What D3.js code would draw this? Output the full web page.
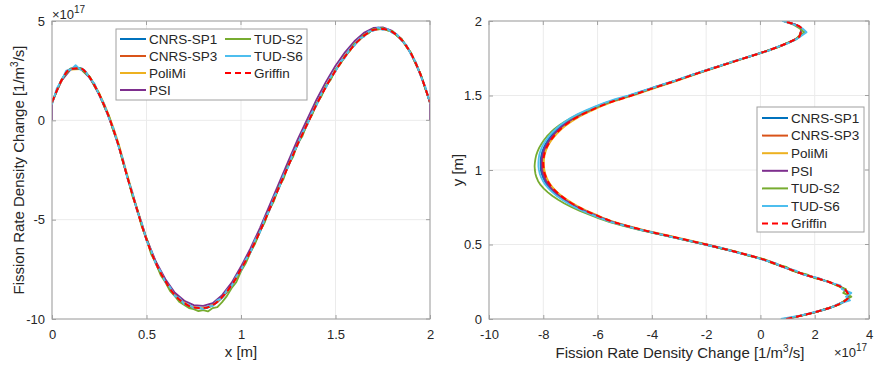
<!DOCTYPE html>
<html>
<head>
<meta charset="utf-8">
<script src="https://cdn.jsdelivr.net/npm/d3@7"></script>
<style>
body{margin:0;background:#fff;}
text{font-family:"Liberation Sans",Arial,Helvetica,sans-serif;fill:#262626;}
</style>
</head>
<body>
<svg width="878" height="366"></svg>
<script>
// series names / colours (MATLAB defaults)
var names = ['CNRS-SP1','CNRS-SP3','PoliMi','PSI','TUD-S2','TUD-S6','Griffin'];
var colors = ['#0072BD','#D95319','#EDB120','#7E2F8E','#77AC30','#4DBEEE','#FF0000'];

// tick labels
var xTicksL = [0,0.5,1,1.5,2];
var yTicksL = [-10,-5,0,5];
var xTicksR = [-10,-8,-6,-4,-2,0,2,4];
var yTicksR = [0,0.5,1,1.5,2];

// ---- left panel: value (x1e17) vs x [m], coarse grid 0..2 step 0.05, fine grid step 0.025
var sp1L = [0.88,2.02,2.6,2.63,2.17,1.32,0.22,-1.18,-2.88,-4.48,-5.98,-7.18,-8.1,-8.8,-9.22,-9.44,-9.47,-9.32,-8.92,-8.32,-7.52,-6.62,-5.6,-4.5,-3.4,-2.28,-1.2,-0.18,0.82,1.72,2.52,3.22,3.82,4.27,4.57,4.62,4.47,4.07,3.37,2.32,0.9];
var sp3L = [0.9,1.98,2.57,2.6,2.13,1.28,0.18,-1.22,-2.92,-4.52,-6.02,-7.22,-8.12,-8.82,-9.22,-9.43,-9.46,-9.31,-8.91,-8.31,-7.51,-6.61,-5.61,-4.51,-3.41,-2.31,-1.21,-0.21,0.79,1.69,2.49,3.19,3.79,4.24,4.54,4.59,4.44,4.04,3.34,2.29,0.89];
var polimiL = [0.88,1.97,2.55,2.58,2.17,1.35,0.28,-1.1,-2.8,-4.42,-5.92,-7.15,-8.05,-8.75,-9.17,-9.4,-9.43,-9.28,-8.88,-8.28,-7.48,-6.58,-5.58,-4.48,-3.38,-2.28,-1.18,-0.18,0.82,1.72,2.52,3.22,3.82,4.27,4.57,4.62,4.47,4.07,3.37,2.32,0.88];
var psiL = [0.9,2.0,2.58,2.6,2.14,1.28,0.17,-1.22,-2.9,-4.48,-5.95,-7.12,-8.0,-8.68,-9.08,-9.3,-9.34,-9.2,-8.8,-8.18,-7.36,-6.45,-5.42,-4.3,-3.18,-2.06,-0.96,0.05,1.05,1.95,2.75,3.42,3.98,4.4,4.65,4.68,4.5,4.08,3.36,2.3,0.9];
var psiEdgeL = [0,0]; // PSI values exactly at the walls x=0 and x=2
var tudS2L = [0.85,1.5,2.05,2.35,2.62,2.6,2.62,2.38,2.2,1.72,1.35,0.72,0.25,-0.55,-1.15,-2.1,-2.85,-3.8,-4.45,-5.35,-5.95,-6.75,-7.2,-7.8,-8.15,-8.6,-8.85,-9.15,-9.3,-9.45,-9.5,-9.6,-9.55,-9.62,-9.45,-9.4,-9.15,-8.85,-8.45,-8.15,-7.6,-7.2,-6.65,-6.2,-5.6,-5.15,-4.5,-4.05,-3.35,-2.95,-2.25,-1.85,-1.15,-0.8,-0.15,0.25,0.85,1.2,1.75,2.05,2.55,2.82,3.25,3.48,3.85,4.02,4.3,4.38,4.6,4.58,4.65,4.52,4.5,4.25,4.1,3.7,3.4,2.82,2.35,1.6,0.9];
var tudS6L = [0.8,1.6,2.0,2.5,2.55,2.78,2.55,2.5,2.1,1.85,1.25,0.85,0.15,-0.4,-1.25,-1.95,-2.95,-3.6,-4.55,-5.15,-6.05,-6.55,-7.25,-7.6,-8.15,-8.4,-8.85,-8.95,-9.25,-9.28,-9.45,-9.4,-9.5,-9.35,-9.35,-9.05,-8.95,-8.55,-8.35,-7.85,-7.55,-7.0,-6.65,-6.0,-5.65,-4.95,-4.55,-3.85,-3.45,-2.75,-2.35,-1.65,-1.25,-0.6,-0.25,0.4,0.75,1.35,1.65,2.2,2.45,2.95,3.15,3.6,3.75,4.12,4.2,4.48,4.5,4.68,4.55,4.6,4.4,4.33,4.0,3.8,3.3,2.92,2.25,1.7,0.85];
var griffinL = [0.9,2.0,2.6,2.62,2.15,1.3,0.2,-1.2,-2.9,-4.5,-6.0,-7.2,-8.1,-8.8,-9.2,-9.42,-9.45,-9.3,-8.9,-8.3,-7.5,-6.6,-5.6,-4.5,-3.4,-2.3,-1.2,-0.2,0.8,1.7,2.5,3.2,3.8,4.25,4.55,4.6,4.45,4.05,3.35,2.3,0.9];

// ---- right panel: value (x1e17) vs y [m]
var sp1R = [0.95,2.1,2.9,3.25,3.1,2.5,1.6,0.85,0.08,-0.93,-2.04,-3.25,-4.46,-5.48,-6.2,-6.8,-7.26,-7.62,-7.86,-8.01,-8.09,-8.1,-8.07,-7.98,-7.83,-7.62,-7.32,-6.92,-6.37,-5.7,-4.82,-4.0,-3.13,-2.32,-1.46,-0.6,0.25,0.97,1.47,1.52,0.85];
var sp3R = [0.93,2.08,2.88,3.23,3.08,2.48,1.58,0.83,0.08,-0.92,-2.02,-3.22,-4.42,-5.42,-6.12,-6.72,-7.17,-7.52,-7.77,-7.92,-8.0,-8.02,-7.99,-7.9,-7.74,-7.52,-7.22,-6.82,-6.27,-5.62,-4.77,-3.97,-3.12,-2.32,-1.47,-0.62,0.23,0.95,1.43,1.5,0.83];
var polimiR = [0.95,2.1,2.9,3.24,3.1,2.5,1.62,0.88,0.14,-0.86,-1.96,-3.15,-4.35,-5.36,-6.06,-6.66,-7.12,-7.48,-7.73,-7.88,-7.96,-7.98,-7.95,-7.86,-7.7,-7.47,-7.16,-6.75,-6.2,-5.55,-4.7,-3.9,-3.06,-2.26,-1.42,-0.57,0.27,0.98,1.45,1.5,0.85];
var psiR = [0.95,2.1,2.9,3.25,3.1,2.5,1.6,0.85,0.1,-0.9,-2.0,-3.21,-4.42,-5.43,-6.14,-6.75,-7.21,-7.57,-7.82,-7.97,-8.05,-8.06,-8.03,-7.94,-7.78,-7.56,-7.26,-6.86,-6.3,-5.64,-4.78,-3.97,-3.11,-2.3,-1.45,-0.6,0.25,0.97,1.45,1.5,0.85];
var tudS2R = [0.85,1.55,2.1,2.55,2.95,3.1,3.35,3.05,3.15,2.8,2.55,2.0,1.7,1.15,0.95,0.42,0.15,-0.45,-0.88,-1.5,-2.02,-2.65,-3.25,-3.88,-4.5,-5.05,-5.55,-5.95,-6.3,-6.65,-6.95,-7.22,-7.45,-7.66,-7.83,-7.98,-8.1,-8.19,-8.25,-8.29,-8.31,-8.32,-8.31,-8.29,-8.26,-8.21,-8.15,-8.07,-7.98,-7.87,-7.74,-7.59,-7.41,-7.2,-6.96,-6.69,-6.36,-6.02,-5.66,-5.25,-4.8,-4.38,-3.97,-3.55,-3.12,-2.72,-2.3,-1.9,-1.45,-1.05,-0.6,-0.18,0.25,0.65,0.95,1.3,1.42,1.62,1.45,1.22,0.85];
var tudS6R = [0.75,1.5,2.05,2.6,2.85,3.3,3.15,3.35,3.0,2.95,2.45,2.15,1.55,1.3,0.8,0.55,0.05,-0.35,-0.95,-1.4,-2.05,-2.6,-3.25,-3.82,-4.47,-4.98,-5.5,-5.88,-6.22,-6.55,-6.84,-7.08,-7.3,-7.5,-7.66,-7.8,-7.92,-8.01,-8.08,-8.13,-8.16,-8.18,-8.18,-8.17,-8.15,-8.11,-8.06,-7.99,-7.9,-7.8,-7.68,-7.54,-7.38,-7.19,-6.98,-6.73,-6.43,-6.1,-5.75,-5.35,-4.88,-4.45,-4.02,-3.6,-3.15,-2.76,-2.33,-1.92,-1.47,-1.08,-0.62,-0.2,0.28,0.6,1.0,1.3,1.5,1.7,1.55,1.25,0.8];
var griffinR = [0.95,2.1,2.9,3.25,3.1,2.5,1.6,0.85,0.1,-0.9,-2.0,-3.2,-4.4,-5.4,-6.1,-6.7,-7.15,-7.5,-7.75,-7.9,-7.98,-8.0,-7.97,-7.88,-7.72,-7.5,-7.2,-6.8,-6.25,-5.6,-4.75,-3.95,-3.1,-2.3,-1.45,-0.6,0.25,0.97,1.45,1.5,0.85];

var coarse = d3.range(41).map(i => i*0.05);
var fine = d3.range(81).map(i => i*0.025);

var svg = d3.select('svg');

function pair(grid, vals){
    return vals.map((v,i) => ({p:grid[i], v:v}));
}

var leftSeries = [
    {name:'CNRS-SP1', pts:pair(coarse,sp1L), smooth:true},
    {name:'CNRS-SP3', pts:pair(coarse,sp3L), smooth:true},
    {name:'PoliMi', pts:pair(coarse,polimiL), smooth:true},
    {name:'PSI', pts:[{p:0,v:psiEdgeL[0]}].concat(pair(coarse,psiL),[{p:2,v:psiEdgeL[1]}]), smooth:false},
    {name:'TUD-S2', pts:pair(fine,tudS2L), smooth:false},
    {name:'TUD-S6', pts:pair(fine,tudS6L), smooth:false},
    {name:'Griffin', pts:pair(coarse,griffinL), smooth:true}
];
var rightSeries = [
    {name:'CNRS-SP1', pts:pair(coarse,sp1R), smooth:true},
    {name:'CNRS-SP3', pts:pair(coarse,sp3R), smooth:true},
    {name:'PoliMi', pts:pair(coarse,polimiR), smooth:true},
    {name:'PSI', pts:pair(coarse,psiR), smooth:true},
    {name:'TUD-S2', pts:pair(fine,tudS2R), smooth:false},
    {name:'TUD-S6', pts:pair(fine,tudS6R), smooth:false},
    {name:'Griffin', pts:pair(coarse,griffinR), smooth:true}
];

function colorOf(n){ return colors[names.indexOf(n)]; }

function frame(g, x, y, xt, yt, w, h){
    g.selectAll('.gx').data(xt).join('line').attr('class','gx')
        .attr('x1',d=>x(d)).attr('x2',d=>x(d)).attr('y1',0).attr('y2',h)
        .attr('stroke','#ebebeb').attr('stroke-width',1);
    g.selectAll('.gy').data(yt).join('line').attr('class','gy')
        .attr('y1',d=>y(d)).attr('y2',d=>y(d)).attr('x1',0).attr('x2',w)
        .attr('stroke','#ebebeb').attr('stroke-width',1);
}

function axes(g, x, y, xt, yt, w, h){
    g.append('rect').attr('x',0).attr('y',0).attr('width',w).attr('height',h)
        .attr('fill','none').attr('stroke','#a0a0a0').attr('stroke-width',1);
    var xa = g.append('g').attr('transform','translate(0,'+h+')')
        .call(d3.axisBottom(x).tickValues(xt).tickSize(-4).tickPadding(11).tickFormat(d => String(d)));
    var ya = g.append('g')
        .call(d3.axisLeft(y).tickValues(yt).tickSize(-4).tickPadding(7).tickFormat(d => String(d)));
    [xa,ya].forEach(a => {
        a.select('.domain').remove();
        a.selectAll('.tick line').attr('stroke','#a0a0a0');
        a.selectAll('.tick text').attr('font-size',13).style('font-family','"Liberation Sans",Arial,sans-serif').attr('fill','#262626');
    });
    g.selectAll('.tt').data(xt).join('line').attr('class','tt')
        .attr('x1',d=>x(d)).attr('x2',d=>x(d)).attr('y1',0).attr('y2',4).attr('stroke','#a0a0a0');
    g.selectAll('.tr').data(yt).join('line').attr('class','tr')
        .attr('y1',d=>y(d)).attr('y2',d=>y(d)).attr('x1',w).attr('x2',w-4).attr('stroke','#a0a0a0');
}

function drawLines(g, series, lineGen, lineGenJag){
    g.selectAll('.ln').data(series).join('path').attr('class','ln')
        .attr('d', d => d.smooth ? lineGen(d.pts) : lineGenJag(d.pts))
        .attr('fill','none')
        .attr('stroke', d => colorOf(d.name))
        .attr('stroke-width', d => d.name==='Griffin' ? 2 : 1.8)
        .attr('stroke-dasharray', d => d.name==='Griffin' ? '6,4' : null)
        .attr('stroke-linejoin','round');
}

function legendEntry(lg, name, lx, ly){
    lg.append('line').attr('x1',lx).attr('x2',lx+26).attr('y1',ly).attr('y2',ly)
        .attr('stroke',colorOf(name)).attr('stroke-width',2)
        .attr('stroke-dasharray', name==='Griffin' ? '6,4' : null);
    lg.append('text').attr('x',lx+29).attr('y',ly).attr('dy','0.35em')
        .attr('font-size',13.5).text(name);
}

function unitLabel(t){
    t.append('tspan').text('Fission Rate Density Change [1/m');
    t.append('tspan').attr('font-size',10).attr('dy',-6).text('3');
    t.append('tspan').attr('dy',6).text('/s]');
}

// ---------- left panel
var L = {x:52, y:21, w:378, h:298};
var gL = svg.append('g').attr('transform','translate('+L.x+','+L.y+')');
var xL = d3.scaleLinear().domain([0,2]).range([0,L.w]);
var yL = d3.scaleLinear().domain([-10,5]).range([L.h,0]);
frame(gL, xL, yL, xTicksL, yTicksL, L.w, L.h);
svg.append('clipPath').attr('id','cl').append('rect').attr('width',L.w).attr('height',L.h);
var plotL = gL.append('g').attr('clip-path','url(#cl)');
drawLines(plotL, leftSeries,
    d3.line().x(d=>xL(d.p)).y(d=>yL(d.v)).curve(d3.curveMonotoneX),
    d3.line().x(d=>xL(d.p)).y(d=>yL(d.v)));
axes(gL, xL, yL, xTicksL, yTicksL, L.w, L.h);

// legend (two columns)
var lgL = gL.append('g');
lgL.append('rect').attr('x',64).attr('y',8).attr('width',191).attr('height',71)
    .attr('fill','#fff').attr('stroke','#a0a0a0');
[['CNRS-SP1',0,0],['CNRS-SP3',0,1],['PoliMi',0,2],['PSI',0,3],['TUD-S2',1,0],['TUD-S6',1,1],['Griffin',1,2]]
    .forEach(e => legendEntry(lgL, e[0], 68 + e[1]*105, 18 + e[2]*17));

// exponent
var ex1 = svg.append('text').attr('x',52).attr('y',19).attr('font-size',13);
ex1.append('tspan').text('\u00d710');
ex1.append('tspan').attr('font-size',10).attr('dy',-6).text('17');

// labels
svg.append('text').attr('x',L.x+L.w/2).attr('y',357).attr('text-anchor','middle')
    .attr('font-size',15).text('x [m]');
unitLabel(svg.append('text').attr('transform','translate(24,'+(L.y+L.h/2)+') rotate(-90)')
    .attr('text-anchor','middle').attr('font-size',15));

// ---------- right panel
var R = {x:489, y:21, w:380, h:298};
var gR = svg.append('g').attr('transform','translate('+R.x+','+R.y+')');
var xR = d3.scaleLinear().domain([-10,4]).range([0,R.w]);
var yR = d3.scaleLinear().domain([0,2]).range([R.h,0]);
frame(gR, xR, yR, xTicksR, yTicksR, R.w, R.h);
svg.append('clipPath').attr('id','cr').append('rect').attr('width',R.w).attr('height',R.h);
var plotR = gR.append('g').attr('clip-path','url(#cr)');
drawLines(plotR, rightSeries,
    d3.line().x(d=>xR(d.v)).y(d=>yR(d.p)).curve(d3.curveMonotoneY),
    d3.line().x(d=>xR(d.v)).y(d=>yR(d.p)));
axes(gR, xR, yR, xTicksR, yTicksR, R.w, R.h);

var lgR = gR.append('g');
lgR.append('rect').attr('x',268).attr('y',86).attr('width',107).attr('height',125)
    .attr('fill','#fff').attr('stroke','#a0a0a0');
names.forEach((n,i) => legendEntry(lgR, n, 273, 97 + i*17.6));

var ex2 = svg.append('text').attr('x',834).attr('y',357).attr('font-size',13);
ex2.append('tspan').text('\u00d710');
ex2.append('tspan').attr('font-size',10).attr('dy',-6).text('17');

unitLabel(svg.append('text').attr('x',680).attr('y',358).attr('text-anchor','middle')
    .attr('font-size',15));
svg.append('text').attr('transform','translate(463,'+(R.y+R.h/2)+') rotate(-90)')
    .attr('text-anchor','middle').attr('font-size',15).text('y [m]');
</script>
</body>
</html>
